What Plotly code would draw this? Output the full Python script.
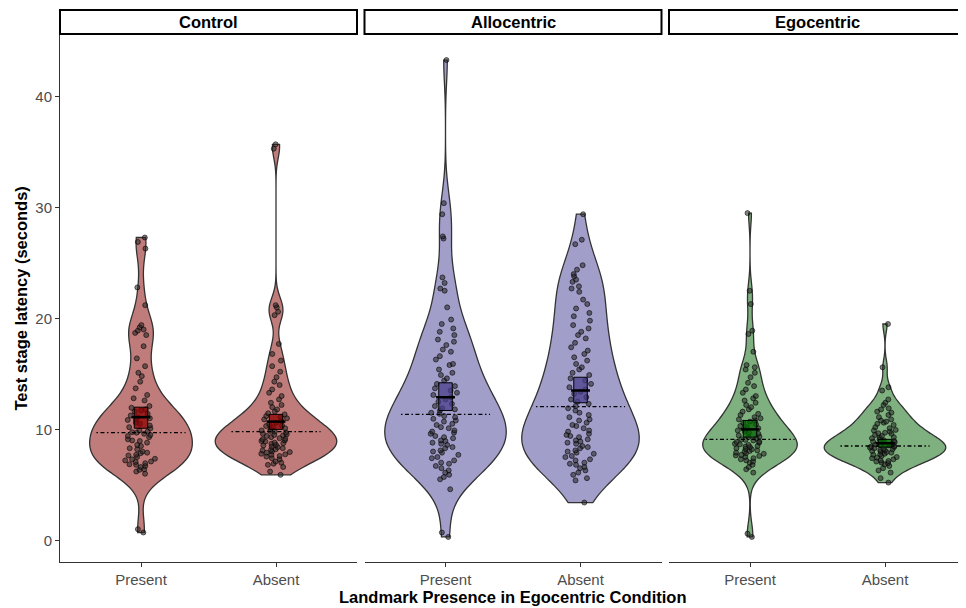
import numpy as np
import plotly.graph_objects as go

conditions = ["Control", "Allocentric", "Egocentric"]
landmark_labels = ["Present", "Absent"]
y_ticks = [0, 10, 20, 30, 40]

control_present = [0.7, 1.0,
    6.0, 6.2, 6.35, 6.4, 6.6, 6.7, 6.8, 6.85, 6.95,
    7.05, 7.1, 7.2, 7.3, 7.35, 7.5, 7.65, 7.7, 7.85, 7.9,
    8.0, 8.2, 8.3, 8.5, 8.6, 8.8, 8.95,
    9.0, 9.1, 9.3, 9.4, 9.5, 9.6, 9.7, 9.75, 9.8, 9.9,
    10.1, 10.2, 10.35, 10.5, 10.6, 10.85, 10.9,
    11.0, 11.1, 11.25, 11.4, 11.6, 11.7, 11.8, 11.95,
    12.1, 12.6, 12.8,
    13.1, 13.7,
    14.3, 14.8,
    15.1, 15.7,
    16.4, 17.5,
    18.5, 18.7, 18.9, 19.0, 19.2, 19.4,
    21.2, 22.8, 26.3, 26.9, 27.3]

control_absent = [5.9, 6.2,
    6.6, 6.8, 6.9, 7.0, 7.1, 7.3, 7.4,
    7.55, 7.6, 7.7, 7.75, 7.8, 7.9, 7.95, 8.0, 8.1, 8.15, 8.2, 8.3, 8.4, 8.45,
    8.55, 8.6, 8.7, 8.75, 8.8, 8.9, 8.95, 9.0, 9.1, 9.15, 9.2, 9.3, 9.4, 9.45, 9.5,
    9.55, 9.6, 9.7, 9.8, 9.85, 9.9, 10.0, 10.1, 10.2, 10.3, 10.35, 10.45,
    10.6, 10.75, 10.9, 11.0, 11.1, 11.2, 11.35, 11.45,
    11.6, 11.8, 12.0, 12.2, 12.4,
    12.7, 13.0, 13.3,
    13.6, 14.0, 14.3,
    14.7, 15.2,
    15.7, 16.2,
    16.8, 17.7,
    20.3, 20.6, 21.0, 21.2,
    35.3, 35.7]

allocentric_present = [0.3, 0.7, 4.6,
    5.5, 5.7, 5.9,
    6.1, 6.3, 6.5, 6.7, 6.9,
    7.0, 7.2, 7.4, 7.5, 7.7, 7.9,
    8.0, 8.1, 8.3, 8.4, 8.6, 8.7, 8.8, 8.95,
    9.0, 9.2, 9.3, 9.4, 9.6, 9.7, 9.8, 9.9,
    10.1, 10.2, 10.4, 10.5, 10.7, 10.8, 10.95,
    11.1, 11.2, 11.4, 11.5, 11.7, 11.8, 11.9,
    12.1, 12.3, 12.5, 12.7, 12.9,
    13.1, 13.3, 13.5, 13.7, 13.9,
    14.1, 14.4, 14.6, 14.9,
    15.1, 15.4, 15.8, 15.9,
    16.3, 16.6, 17.0,
    17.2, 17.6, 17.9,
    18.1, 18.5, 18.8,
    19.1, 19.5, 19.9,
    21.0,
    22.5, 22.7, 23.2, 23.7,
    27.2, 27.4, 29.4, 30.4, 43.3]

allocentric_absent = [3.4,
    5.4, 5.6, 5.9,
    6.1, 6.3, 6.5, 6.6, 6.8, 6.9,
    7.0, 7.2, 7.3, 7.5, 7.6, 7.8, 7.9,
    8.0, 8.1, 8.3, 8.4, 8.5, 8.7, 8.8, 8.9,
    9.0, 9.1, 9.3, 9.4, 9.5, 9.6, 9.8, 9.9,
    10.1, 10.3, 10.4, 10.6, 10.8, 10.9,
    11.1, 11.3, 11.5, 11.7, 11.9,
    12.1, 12.3, 12.5, 12.7, 12.9,
    13.2, 13.4, 13.6, 13.8,
    14.1, 14.4, 14.6, 14.9,
    15.1, 15.4, 15.6, 15.9,
    16.2, 16.5, 16.8,
    17.1, 17.4, 17.8,
    18.2, 18.5, 18.8,
    19.1, 19.4, 19.8,
    20.2, 20.5, 20.9,
    21.3, 21.7,
    22.4, 22.7, 22.9,
    23.3, 23.5, 23.8, 24.0,
    24.4, 24.8,
    26.7, 27.1, 29.4]

egocentric_present = [0.3, 0.6,
    6.1, 6.4,
    6.6, 6.8, 7.0, 7.1, 7.2, 7.3, 7.4,
    7.5, 7.6, 7.65, 7.7, 7.8, 7.85, 7.9, 8.0, 8.05, 8.1, 8.2, 8.25, 8.3, 8.4, 8.45,
    8.5, 8.6, 8.65, 8.7, 8.8, 8.85, 8.9, 9.0, 9.05, 9.1, 9.2, 9.3, 9.35, 9.45,
    9.6, 9.7, 9.8, 9.9, 10.0, 10.1, 10.2, 10.3, 10.45,
    10.6, 10.7, 10.8, 10.9, 11.0, 11.1, 11.3, 11.4,
    11.6, 11.8, 12.0, 12.2, 12.4,
    12.6, 12.8, 13.0, 13.3,
    13.6, 13.9, 14.2,
    14.7, 15.1, 15.4,
    15.6, 15.8,
    17.0,
    18.6, 18.9,
    21.3, 22.5, 29.5]

egocentric_absent = [5.2, 5.6,
    6.1, 6.3, 6.5, 6.7, 6.85, 6.95,
    7.0, 7.1, 7.15, 7.2, 7.3, 7.4, 7.45, 7.5, 7.6, 7.7, 7.75, 7.8, 7.9, 7.95,
    8.0, 8.05, 8.1, 8.15, 8.2, 8.25, 8.3, 8.35, 8.4, 8.45, 8.5, 8.55, 8.6, 8.65, 8.7, 8.8, 8.85, 8.9, 8.95,
    9.0, 9.1, 9.2, 9.25, 9.3, 9.4, 9.5, 9.6, 9.65, 9.7, 9.8, 9.9, 9.95,
    10.1, 10.2, 10.4, 10.5, 10.6, 10.7, 10.8, 10.9,
    11.1, 11.3, 11.5, 11.6, 11.8, 11.9,
    12.2, 12.4, 12.7,
    13.5, 13.8,
    15.6, 19.5]

# summary statistics (order: C-P, C-A, A-P, A-A, E-P, E-A)
mean_latency = [11.1, 10.7, 12.9, 13.5, 10.0, 8.75]
ci_lower = [10.1, 10.0, 11.7, 12.4, 9.3, 8.4]
ci_upper = [12.0, 11.35, 14.2, 14.7, 10.8, 9.1]
median_latency = [9.7, 9.8, 11.35, 12.05, 9.1, 8.5]

groups = [[control_present, control_absent],
          [allocentric_present, allocentric_absent],
          [egocentric_present, egocentric_absent]]

# styling
violin_fill = ["#BF7C7A", "#A29ECA", "#7EB17F"]
box_fill = ["rgba(139,0,0,0.75)", "rgba(72,61,139,0.75)", "rgba(0,100,0,0.75)"]
violin_max_width = [0.76, 0.9, 0.9, 0.87, 0.70, 0.9]   # area-scaled widths within each panel

FONT = "Liberation Sans, Arial, sans-serif"


def nrd0(v):
    v = np.asarray(v, float)
    sd = v.std(ddof=1)
    q75, q25 = np.percentile(v, [75, 25])
    lo = min(sd, (q75 - q25) / 1.34)
    return 0.9 * lo * len(v) ** (-0.2)


# page body has an 8px margin, so the figure is laid out 8px smaller
W, H = 958, 600
ML, MR, MT, MB = 52, 0, 27, 46
plot_w = W - ML - MR
plot_h = H - MT - MB
gap = 7.5
panel_w = (plot_w - 2 * gap) / 3
domains = [[(i * (panel_w + gap)) / plot_w, (i * (panel_w + gap) + panel_w) / plot_w] for i in range(3)]

BOX_HALF = 0.05
MED_HALF = 0.33
JITTER_HALF = 0.1   # in category units

fig = go.Figure()
layout_axes = {}
shapes = []
annotations = []

for p in range(3):
    xa = "x" if p == 0 else f"x{p + 1}"
    ya = "y" if p == 0 else f"y{p + 1}"
    for j in range(2):
        k = 2 * p + j
        vals = groups[p][j]
        wv = violin_max_width[k]
        fig.add_trace(go.Violin(
            y=vals, x0=j, xaxis=xa, yaxis=ya, width=wv,
            scalegroup=f"violin{k}", scalemode="width", spanmode="hard",
            bandwidth=nrd0(vals), fillcolor=violin_fill[p],
            line=dict(color="#333333", width=1.3),
            points="all", pointpos=0, jitter=min(1.0, JITTER_HALF / (wv / 2) * 1.2),
            marker=dict(size=5, color="rgba(35,35,35,0.55)",
                        line=dict(color="rgba(0,0,0,0.8)", width=0.7)),
            box_visible=False, meanline_visible=False,
            showlegend=False, hoverinfo="skip"))
    # median (dot-dash) lines
    for j in range(2):
        k = 2 * p + j
        fig.add_trace(go.Scatter(
            x=[j - MED_HALF, j + MED_HALF], y=[median_latency[k]] * 2, mode="lines",
            line=dict(color="black", width=1.3, dash="1.5px,2.5px,4px,2.5px"),
            xaxis=xa, yaxis=ya, showlegend=False, hoverinfo="skip"))
    # mean confidence boxes
    bx, by = [], []
    for j in range(2):
        k = 2 * p + j
        lo, hi = ci_lower[k], ci_upper[k]
        bx += [j - BOX_HALF, j + BOX_HALF, j + BOX_HALF, j - BOX_HALF, j - BOX_HALF, None]
        by += [lo, lo, hi, hi, lo, None]
    fig.add_trace(go.Scatter(
        x=bx, y=by, mode="lines", fill="toself", fillcolor=box_fill[p],
        line=dict(color="black", width=1), xaxis=xa, yaxis=ya,
        showlegend=False, hoverinfo="skip"))
    fig.add_trace(go.Scatter(
        x=[0, 1], y=mean_latency[2 * p:2 * p + 2], mode="markers",
        marker=dict(symbol="line-ew", size=13.5, line=dict(color="black", width=2.5)),
        xaxis=xa, yaxis=ya, showlegend=False, hoverinfo="skip"))

    xkey = "xaxis" if p == 0 else f"xaxis{p + 1}"
    ykey = "yaxis" if p == 0 else f"yaxis{p + 1}"
    layout_axes[xkey] = dict(
        domain=domains[p], anchor=ya, range=[-0.6, 1.6],
        tickmode="array", tickvals=[0, 1], ticktext=landmark_labels,
        ticks="outside", ticklen=4, tickcolor="#333333", tickwidth=1,
        showline=True, linecolor="#333333", linewidth=1,
        showgrid=False, zeroline=False,
        tickfont=dict(family=FONT, size=15, color="#4D4D4D"))
    ydict = dict(anchor=xa, range=[-1.96, 45.56], showgrid=False, zeroline=False,
                 domain=[0, 1])
    if p == 0:
        ydict.update(tickmode="array", tickvals=y_ticks, ticks="outside", ticklen=4,
                     tickcolor="#333333", tickwidth=1, showline=True,
                     linecolor="#333333", linewidth=1,
                     tickfont=dict(family=FONT, size=15, color="#4D4D4D"))
    else:
        ydict.update(matches="y", showticklabels=False, showline=False, ticks="")
    layout_axes[ykey] = ydict

    y0 = (plot_h + 1) / plot_h
    y1 = (plot_h + 25) / plot_h
    shapes.append(dict(type="rect", xref=f"{xa} domain", yref="paper",
                       x0=0, x1=1, y0=y0, y1=y1,
                       line=dict(color="black", width=2), fillcolor="white"))
    annotations.append(dict(text=f"<b>{conditions[p]}</b>", xref=f"{xa} domain", yref="paper",
                            x=0.5, y=(y0 + y1) / 2, showarrow=False,
                            xanchor="center", yanchor="middle",
                            font=dict(family=FONT, size=16.5, color="black")))

annotations.append(dict(text="<b>Landmark Presence in Egocentric Condition</b>",
                        xref="paper", yref="paper", x=0.5, y=-(589 - (H - MB)) / plot_h,
                        showarrow=False, xanchor="center", yanchor="middle",
                        font=dict(family=FONT, size=16.5, color="black")))
annotations.append(dict(text="<b>Test stage latency (seconds)</b>",
                        xref="paper", yref="paper", x=(12 - ML) / plot_w, y=0.5,
                        showarrow=False, xanchor="center", yanchor="middle", textangle=-90,
                        font=dict(family=FONT, size=16.5, color="black")))

fig.update_layout(
    width=W, height=H,
    margin=dict(l=ML, r=MR, t=MT, b=MB, autoexpand=False),
    paper_bgcolor="white", plot_bgcolor="white",
    violinmode="overlay",
    shapes=shapes, annotations=annotations,
    font=dict(family=FONT),
    **layout_axes)

fig.write_html("out.html")
